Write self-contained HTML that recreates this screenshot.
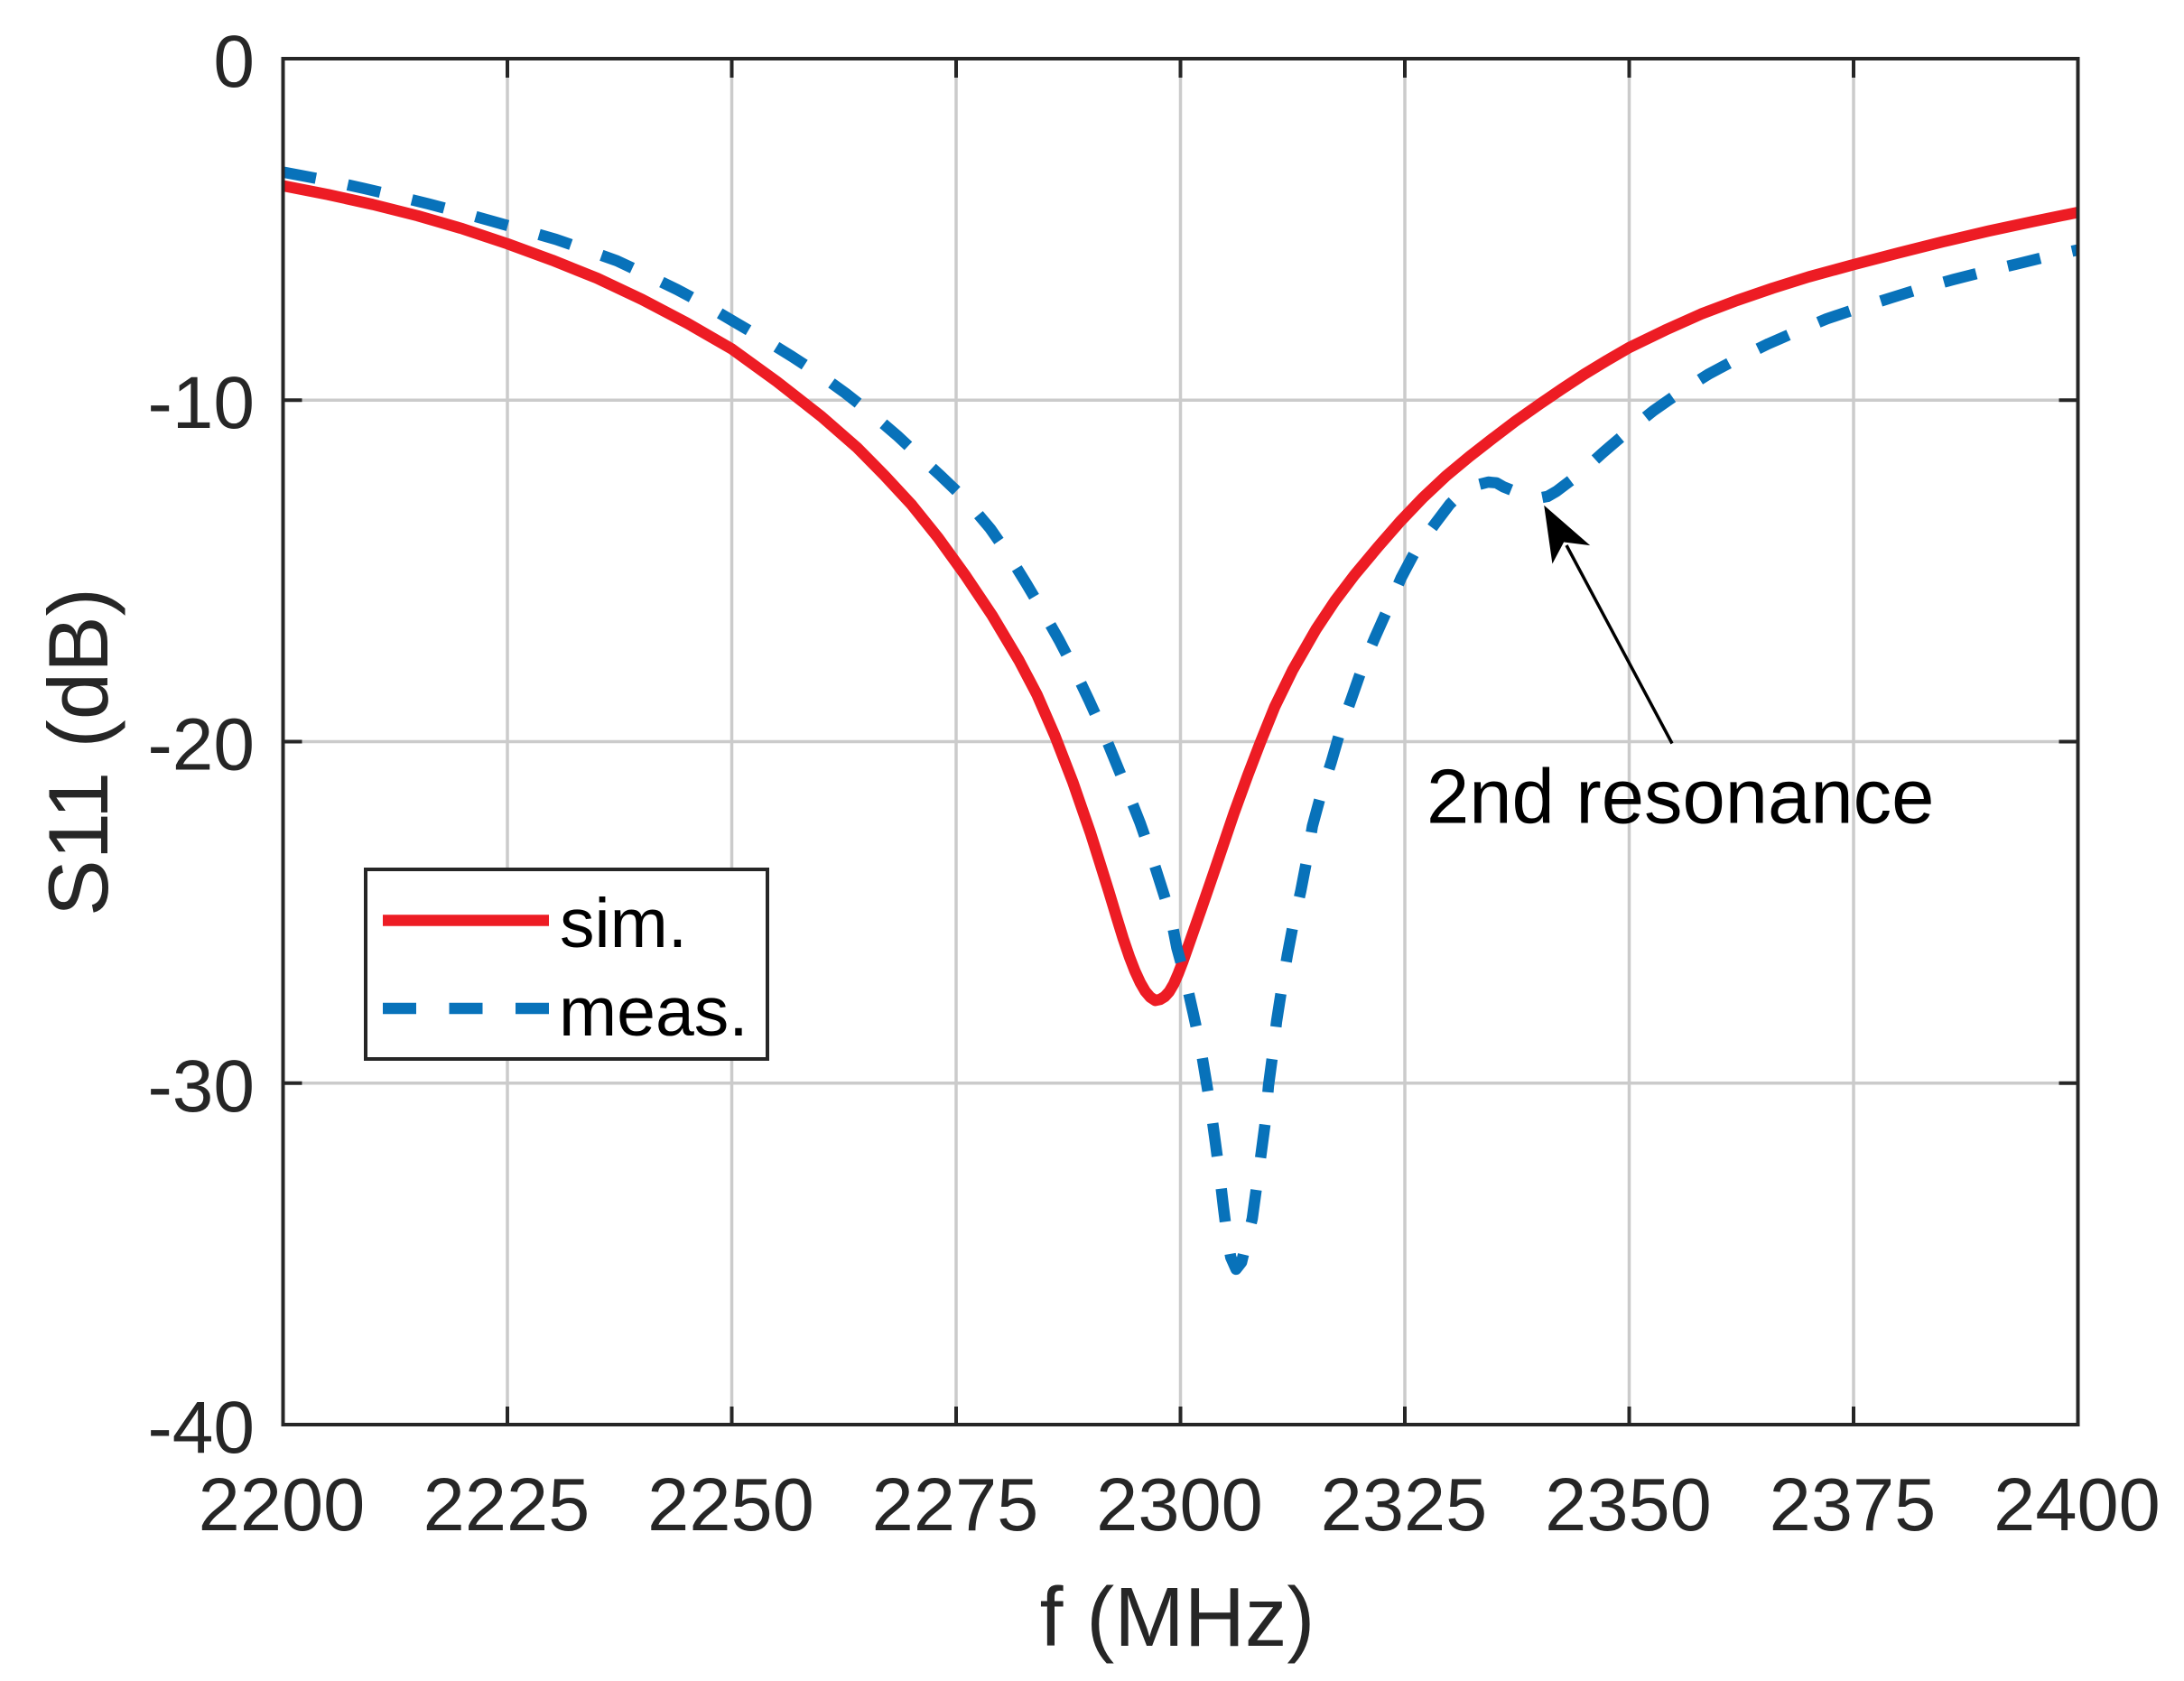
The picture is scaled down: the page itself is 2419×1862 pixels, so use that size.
<!DOCTYPE html>
<html>
<head>
<meta charset="utf-8">
<style>
html,body{margin:0;padding:0;background:#fff;}
svg{display:block;}
text{font-family:"Liberation Sans",Arial,sans-serif;}
</style>
</head>
<body>
<svg width="2419" height="1862" viewBox="0 0 2419 1862" xmlns="http://www.w3.org/2000/svg">
<rect x="0" y="0" width="2419" height="1862" fill="#fff"/>
<defs>
<clipPath id="ax"><rect x="313.5" y="65" width="1988" height="1513"/></clipPath>
</defs>

<!-- grid -->
<g stroke="#cbcbcb" stroke-width="3.5" fill="none">
<line x1="562" y1="65" x2="562" y2="1578"/>
<line x1="810.5" y1="65" x2="810.5" y2="1578"/>
<line x1="1059" y1="65" x2="1059" y2="1578"/>
<line x1="1307.5" y1="65" x2="1307.5" y2="1578"/>
<line x1="1556" y1="65" x2="1556" y2="1578"/>
<line x1="1804.5" y1="65" x2="1804.5" y2="1578"/>
<line x1="2053" y1="65" x2="2053" y2="1578"/>
<line x1="313.5" y1="443.25" x2="2301.5" y2="443.25"/>
<line x1="313.5" y1="821.5" x2="2301.5" y2="821.5"/>
<line x1="313.5" y1="1199.75" x2="2301.5" y2="1199.75"/>
</g>

<!-- curves -->
<g clip-path="url(#ax)">
<polyline fill="none" stroke="#ED1C24" stroke-width="12.5" stroke-linejoin="round" stroke-linecap="butt"
points="313.5,205.7 363.2,215.5 412.9,226.5 462.6,239.0 512.3,253.4 562.0,270.0 611.7,288.2 661.4,308.2 711.1,331.7 760.8,357.8 810.5,386.5 860.2,422.5 909.9,461.4 949.7,496.2 979.5,526.5 1009.3,558.6 1039.1,595.7 1068.9,636.9 1098.8,681.5 1128.6,731.5 1148.5,769.3 1168.3,814.7 1188.2,866.1 1208.1,923.6 1218,955 1228,987 1236,1013.5 1244,1039.5 1251,1060 1257,1075.5 1263,1088.5 1268.5,1098 1274,1104.5 1279.7,1108.2 1285,1107 1290,1104 1295,1098.5 1300,1090 1305,1078.5 1310,1065.5 1320,1037 1330,1008.5 1340,979.5 1350.2,949.7 1367.1,899.8 1382.1,858.6 1396.0,822.3 1411.9,782.9 1431.8,742.1 1457.6,697.1 1478.5,665.7 1500.3,636.9 1526.2,605.9 1551.0,577.5 1575.9,551.4 1601.7,527.2 1627.6,505.7 1653.4,485.6 1678.3,466.7 1705.1,447.8 1730.0,430.8 1754.8,414.5 1779.7,399.4 1804.5,385.0 1844.3,365.7 1884.0,347.9 1923.8,332.8 1963.5,319.2 2003.3,306.7 2053.0,293.1 2102.7,280.2 2152.4,267.7 2202.1,256.0 2251.8,245.4 2301.5,235.2"/>
<polyline fill="none" stroke="#0872BA" stroke-width="12.5" stroke-linejoin="round" stroke-linecap="butt" stroke-dasharray="37 36"
points="313.5,190.6 333.4,194.4 363.2,200.0 403.0,208.7 438.7,217.1 474.5,225.8 510.3,235.2 545.1,245.0 579.9,254.9 615.7,265.1 647.5,276.1 683.3,288.9 714.1,303.3 749.9,320.7 780.7,337.3 813.5,356.6 845.3,375.2 877.1,394.8 907.9,414.9 936.7,435.7 965.6,458.4 993.4,482.2 1017.3,504.5 1042.1,527.2 1070.9,554.8 1096.8,585.5 1117.6,615.4 1136.5,646.0 1155.4,677.8 1173.3,709.5 1190.2,742.1 1206.1,775.4 1221.0,808.3 1234.9,842.3 1248.9,876.4 1262.8,911.5 1274.7,945.6 1285.6,979.6 1296.6,1014.4 1303.5,1050.0 1313.5,1086.3 1321.4,1121.5 1329.4,1158.1 1335.3,1193.3 1341.3,1230.0 1346.3,1266.7 1351.2,1303.8 1355.2,1338.2 1359.2,1370.0 1363.2,1392.7 1369.1,1405.9 1375.1,1398.3 1380.1,1377.5 1387.0,1349.9 1392.0,1313.2 1397.0,1276.5 1401.9,1239.5 1404.9,1203.2 1409.9,1165.7 1413.9,1131.7 1419.8,1093.8 1425.8,1058.3 1432.7,1022.0 1440.7,987.2 1447.7,950.9 1453.6,915.3 1463.6,878.2 1474.5,844.2 1485.4,806.4 1497.4,772.3 1509.3,738.3 1523.2,705.4 1538.1,672.1 1552.0,639.9 1569.0,607.8 1590.8,578.3 1605.7,558.6 1617.6,546.9 1633.5,537.8 1648.4,534.0 1657.4,534.8 1665.3,539.3 1685.2,547.3 1704.1,551.8 1714.1,549.9 1724.0,544.2 1749.8,524.6 1775.7,501.1 1803.5,477.3 1831.3,455.0 1862.2,433.4 1893.0,414.1 1925.8,396.7 1958.6,380.8 1991.4,366.5 2023.2,353.2 2059.0,341.1 2094.8,329.8 2127.6,319.6 2163.3,309.7 2199.1,300.6 2232.9,292.7 2266.7,284.4 2301.5,276.8"/>
</g>

<!-- axes box and ticks -->
<g stroke="#262626" stroke-width="4" fill="none">
<rect x="313.5" y="65" width="1988" height="1513"/>
<line x1="562" y1="1578" x2="562" y2="1558"/>
<line x1="810.5" y1="1578" x2="810.5" y2="1558"/>
<line x1="1059" y1="1578" x2="1059" y2="1558"/>
<line x1="1307.5" y1="1578" x2="1307.5" y2="1558"/>
<line x1="1556" y1="1578" x2="1556" y2="1558"/>
<line x1="1804.5" y1="1578" x2="1804.5" y2="1558"/>
<line x1="2053" y1="1578" x2="2053" y2="1558"/>
<line x1="562" y1="65" x2="562" y2="86"/>
<line x1="810.5" y1="65" x2="810.5" y2="86"/>
<line x1="1059" y1="65" x2="1059" y2="86"/>
<line x1="1307.5" y1="65" x2="1307.5" y2="86"/>
<line x1="1556" y1="65" x2="1556" y2="86"/>
<line x1="1804.5" y1="65" x2="1804.5" y2="86"/>
<line x1="2053" y1="65" x2="2053" y2="86"/>
<line x1="313.5" y1="443.25" x2="334.5" y2="443.25"/>
<line x1="313.5" y1="821.5" x2="334.5" y2="821.5"/>
<line x1="313.5" y1="1199.75" x2="334.5" y2="1199.75"/>
<line x1="2301.5" y1="443.25" x2="2280.5" y2="443.25"/>
<line x1="2301.5" y1="821.5" x2="2280.5" y2="821.5"/>
<line x1="2301.5" y1="1199.75" x2="2280.5" y2="1199.75"/>
</g>

<!-- tick labels -->
<g fill="#262626" font-size="82" text-anchor="end">
<text x="282" y="96">0</text>
<text x="282" y="474">-10</text>
<text x="282" y="852.5">-20</text>
<text x="282" y="1231">-30</text>
<text x="282" y="1609">-40</text>
</g>
<g fill="#262626" font-size="83" text-anchor="middle">
<text x="312" y="1695">2200</text>
<text x="561" y="1695">2225</text>
<text x="809.5" y="1695">2250</text>
<text x="1058" y="1695">2275</text>
<text x="1306.5" y="1695">2300</text>
<text x="1555" y="1695">2325</text>
<text x="1803.5" y="1695">2350</text>
<text x="2052" y="1695">2375</text>
<text x="2300.5" y="1695">2400</text>
</g>

<!-- axis labels -->
<text x="1304" y="1823" font-size="93" fill="#262626" text-anchor="middle">f (MHz)</text>
<text transform="translate(119,833) rotate(-90)" font-size="94" fill="#262626" text-anchor="middle">S11 (dB)</text>

<!-- annotation -->
<line x1="1852" y1="823.5" x2="1735" y2="604" stroke="#000" stroke-width="3.5"/>
<polygon points="1710.2,559.7 1761.2,604.1 1732.1,600.5 1719.4,624.5" fill="#000"/>
<text x="1580" y="911.7" font-size="85" fill="#000">2nd resonance</text>

<!-- legend -->
<rect x="405" y="963" width="445" height="210" fill="#fff" stroke="#262626" stroke-width="4"/>
<line x1="424" y1="1019.5" x2="608" y2="1019.5" stroke="#ED1C24" stroke-width="12.5"/>
<line x1="424" y1="1117" x2="608" y2="1117" stroke="#0872BA" stroke-width="12.5" stroke-dasharray="37 36.5"/>
<text x="620" y="1049" font-size="77" fill="#000">sim.</text>
<text x="619" y="1147" font-size="77" fill="#000">meas.</text>
</svg>
</body>
</html>
